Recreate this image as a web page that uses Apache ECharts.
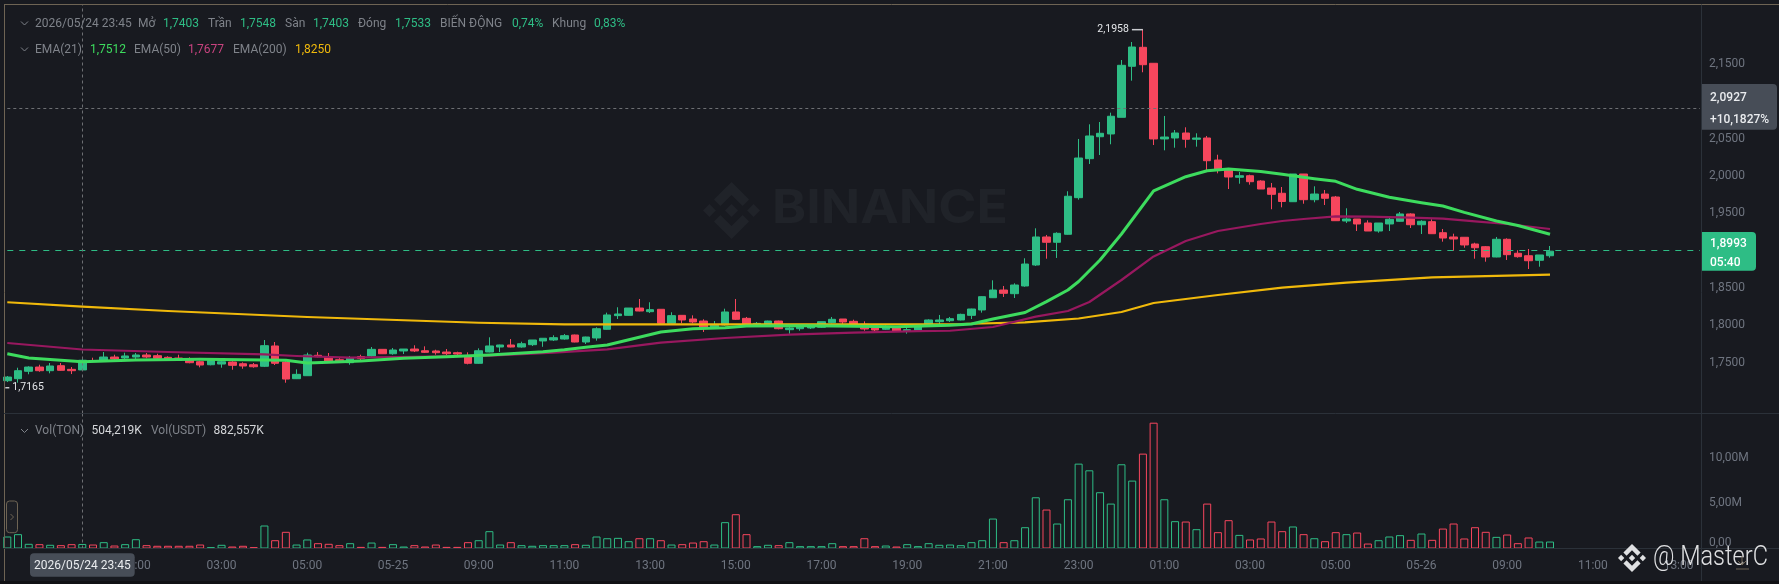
<!DOCTYPE html>
<html><head><meta charset="utf-8">
<style>html,body{margin:0;padding:0;background:#181a20}#c{width:1779px;height:584px}</style>
<script src="https://cdn.jsdelivr.net/npm/echarts@6/dist/echarts.min.js"></script>
</head><body><div id="c"></div>
<script>
const opens=[1.7259,1.7286,1.7385,1.7442,1.7393,1.7460,1.7411,1.7403,1.7527,1.7519,
1.7576,1.7563,1.7576,1.7603,1.7594,1.7572,1.7563,1.7532,1.7513,1.7473,
1.7482,1.7509,1.7486,1.7473,1.7452,1.7724,1.7509,1.7286,1.7326,1.7599,
1.7580,1.7540,1.7500,1.7583,1.7590,1.7679,1.7620,1.7657,1.7683,1.7660,
1.7657,1.7643,1.7634,1.7576,1.7492,1.7643,1.7710,1.7737,1.7710,1.7741,
1.7791,1.7804,1.7817,1.7871,1.7777,1.7831,1.7947,1.8130,1.8134,1.8232,
1.8183,1.8215,1.8027,1.8134,1.8085,1.8058,1.7978,1.8005,1.8179,1.8094,
1.8005,1.8005,1.8058,1.7942,1.7955,1.7965,1.7974,1.8036,1.8085,1.8054,
1.8014,1.7965,1.7947,1.7969,1.7924,1.7934,1.7996,1.8049,1.8062,1.8072,
1.8134,1.8206,1.8370,1.8473,1.8424,1.8527,1.8808,1.9183,1.9112,1.9219,
1.9709,2.0231,2.0525,2.0562,2.0785,2.1468,2.1722,2.1508,2.0495,2.0508,
2.0575,2.0491,2.0508,2.0213,2.0089,1.9982,2.0003,1.9932,1.9839,1.9768,
1.9655,2.0026,1.9682,1.9758,1.9718,1.9397,1.9424,1.9370,1.9263,1.9357,
1.9393,1.9491,1.9347,1.9388,1.9240,1.9183,1.9179,1.9089,1.9053,1.8915,
1.9152,1.8965,1.8932,1.8871,1.8932];
const closes=[1.7308,1.7393,1.7442,1.7393,1.7456,1.7398,1.7393,1.7533,1.7519,1.7576,
1.7549,1.7590,1.7603,1.7576,1.7559,1.7549,1.7545,1.7500,1.7469,1.7527,
1.7513,1.7465,1.7456,1.7446,1.7728,1.7492,1.7281,1.7344,1.7603,1.7580,
1.7523,1.7527,1.7567,1.7556,1.7679,1.7620,1.7670,1.7683,1.7657,1.7639,
1.7634,1.7620,1.7616,1.7492,1.7660,1.7724,1.7737,1.7710,1.7754,1.7804,
1.7827,1.7835,1.7862,1.7777,1.7844,1.7955,1.8139,1.8152,1.8232,1.8192,
1.8210,1.8027,1.8130,1.8072,1.8045,1.7974,1.8001,1.8179,1.8081,1.8018,
1.8027,1.8058,1.7955,1.7965,1.7996,1.8001,1.8049,1.8081,1.8045,1.8005,
1.7951,1.7938,1.7974,1.7924,1.7942,1.7982,1.8072,1.8072,1.8089,1.8147,
1.8219,1.8384,1.8473,1.8429,1.8540,1.8821,1.9183,1.9112,1.9232,1.9728,
2.0240,2.0535,2.0571,2.0799,2.1481,2.1726,2.1489,2.0495,2.0521,2.0575,
2.0491,2.0508,2.0204,2.0093,1.9986,2.0003,1.9923,1.9825,1.9754,1.9658,
2.0026,1.9682,1.9758,1.9701,1.9401,1.9424,1.9357,1.9263,1.9370,1.9420,
1.9491,1.9347,1.9393,1.9227,1.9169,1.9156,1.9076,1.9039,1.8915,1.9152,
1.8946,1.8919,1.8865,1.8942,1.8993];
const lows=[1.7241,1.7232,1.7345,1.7379,1.7358,1.7393,1.7348,1.7403,1.7509,1.7509,
1.7532,1.7545,1.7545,1.7559,1.7545,1.7527,1.7536,1.7492,1.7438,1.7465,
1.7433,1.7406,1.7419,1.7433,1.7442,1.7469,1.7232,1.7281,1.7326,1.7572,
1.7513,1.7519,1.7473,1.7536,1.7580,1.7616,1.7607,1.7616,1.7643,1.7630,
1.7607,1.7603,1.7599,1.7478,1.7486,1.7639,1.7643,1.7706,1.7701,1.7724,
1.7713,1.7791,1.7808,1.7773,1.7750,1.7795,1.7942,1.8085,1.8130,1.8188,
1.8165,1.8018,1.8018,1.8027,1.8027,1.7911,1.7960,1.7996,1.8072,1.8009,
1.7996,1.7996,1.7947,1.7888,1.7928,1.7951,1.7965,1.8027,1.8014,1.7996,
1.7928,1.7924,1.7938,1.7915,1.7888,1.7924,1.7982,1.8014,1.8045,1.8067,
1.8085,1.8170,1.8366,1.8380,1.8366,1.8517,1.8795,1.8892,1.8902,1.9214,
1.9682,2.0160,2.0280,2.0424,2.0785,2.1275,2.1388,2.0414,2.0343,2.0378,
2.0378,2.0392,2.0080,2.0035,1.9825,1.9896,1.9883,1.9825,1.9554,1.9580,
1.9651,1.9628,1.9647,1.9611,1.9401,1.9370,1.9263,1.9263,1.9240,1.9263,
1.9388,1.9303,1.9223,1.9223,1.9120,1.8999,1.9039,1.8892,1.8852,1.8911,
1.8875,1.8906,1.8754,1.8785,1.8906];
const highs=[1.7322,1.7433,1.7452,1.7473,1.7496,1.7496,1.7442,1.7548,1.7567,1.7643,
1.7607,1.7634,1.7630,1.7630,1.7620,1.7586,1.7607,1.7572,1.7527,1.7545,
1.7545,1.7519,1.7505,1.7496,1.7804,1.7777,1.7536,1.7411,1.7634,1.7643,
1.7630,1.7572,1.7590,1.7607,1.7710,1.7679,1.7697,1.7683,1.7733,1.7719,
1.7674,1.7683,1.7647,1.7639,1.7692,1.7840,1.7741,1.7817,1.7781,1.7804,
1.7827,1.7867,1.7884,1.7876,1.7848,1.7974,1.8170,1.8242,1.8232,1.8353,
1.8309,1.8215,1.8175,1.8134,1.8134,1.8081,1.8058,1.8223,1.8353,1.8112,
1.8045,1.8062,1.8062,1.8005,1.8005,1.8018,1.8049,1.8112,1.8085,1.8076,
1.8054,1.7992,1.8005,1.7992,1.7982,1.8001,1.8081,1.8139,1.8112,1.8156,
1.8223,1.8389,1.8603,1.8527,1.8563,1.8898,1.9299,1.9210,1.9246,1.9795,
2.0495,2.0691,2.0722,2.0847,2.1552,2.1793,2.1958,2.1508,2.0803,2.0615,
2.0651,2.0571,2.0535,2.0284,2.0102,2.0053,2.0017,1.9942,1.9906,1.9852,
2.0026,2.0026,1.9861,1.9812,1.9732,1.9567,1.9424,1.9406,1.9370,1.9437,
1.9517,1.9500,1.9406,1.9420,1.9290,1.9227,1.9179,1.9106,1.9062,1.9183,
1.9165,1.9005,1.9022,1.8942,1.9062];
const volumes=[1.33,1.59,.52,.48,.41,.37,.48,.504,.44,.70,
.33,.48,1.03,.37,.30,.30,.30,.30,.44,.15,
.41,.22,.30,.15,2.55,.92,1.85,.44,1.0,.59,
.52,.37,.59,.18,.66,.18,.48,.22,.37,.22,
.44,.18,.18,.70,.92,1.92,.44,.70,.37,.30,
.37,.37,.37,.48,.41,1.33,1.14,1.18,.81,1.14,
1.14,.92,.44,.48,.66,.81,.44,2.92,3.80,1.59,
.26,.41,.37,.70,.26,.26,.26,.59,.26,.26,
1.14,.26,.33,.22,.48,.26,.59,.41,.44,.37,
.70,.92,3.32,.70,.92,2.36,5.68,4.32,2.77,5.46,
9.41,8.67,6.24,4.98,9.34,7.53,10.52,13.95,5.46,3.03,
2.99,2.14,4.98,1.81,3.14,1.51,1.0,1.11,2.99,1.92,
2.44,1.59,1.14,.81,1.81,1.59,1.77,.55,.92,1.33,
1.48,.96,1.66,.96,2.21,2.77,1.11,2.36,1.85,1.29,
1.55,.59,1.22,.77,.77];
const ema21=[[0,1.7620],[2,1.7563],[7,1.7512],[12,1.7536],[18,1.7545],[24,1.7536],[26,1.7532],[28,1.7496],[30,1.7505],[33,1.7523],[37,1.7559],[41,1.7580],[45,1.7603],[50,1.7647],[52,1.7674],[54,1.7708],[56,1.7737],[61,1.7911],[64,1.7955],[67,1.7969],[69,1.7991],[75,1.7995],[83,1.7982],[88,1.8001],[90,1.8018],[92,1.8085],[95,1.8172],[97,1.8317],[99,1.8473],[100,1.8587],[102,1.8875],[104,1.9223],[107,1.9799],[110,1.9990],[112,2.0070],[114,2.0093],[117,2.0060],[119,2.0022],[122,1.9963],[124,1.9928],[126,1.9821],[129,1.9714],[132,1.9642],[134,1.9598],[136,1.9513],[139,1.9397],[141,1.9337],[144,1.9219]];
const ema50=[[0,1.7764],[7,1.7677],[15,1.7643],[24,1.7612],[27,1.7590],[32,1.7567],[38,1.7580],[45,1.7594],[51,1.7634],[56,1.7679],[61,1.7768],[67,1.7831],[73,1.7875],[79,1.7902],[85,1.7924],[88,1.7928],[92,1.7978],[96,1.8116],[99,1.8192],[101,1.8313],[104,1.8607],[107,1.8922],[110,1.9129],[113,1.9263],[117,1.9357],[119,1.9397],[121,1.9424],[124,1.9460],[127,1.9455],[131,1.9441],[134,1.9428],[137,1.9393],[140,1.9357],[144,1.9290]];
const ema200=[[0,1.8309],[7,1.8250],[15,1.8192],[28,1.8112],[44,1.8035],[52,1.8014],[61,1.8014],[76,1.8014],[89,1.8018],[95,1.8041],[100,1.8092],[104,1.8179],[107,1.8299],[113,1.8406],[119,1.8504],[125,1.8571],[133,1.8643],[144,1.8678]];
const priceTicks=[1.75,1.80,1.85,1.90,1.95,2.00,2.05,2.10,2.15];
const volumeTicks=[0,5,10];
const crossPrice=2.0927, lastPrice=1.8993, highMark=2.1958, lowMark=1.7165;
const hoverIndex=7, highIndex=106;
const slotCount=159;
const categories=Array.from({length:slotCount},(_,i)=>new Date(Date.UTC(2026,4,24,22)+i*9e5).toISOString().slice(5,16));
const ohlc=opens.map((o,i)=>[o,closes[i],lows[i],highs[i]]);
const UP='#2ebd85',DOWN='#f6465d',GRAY='#7f838a',AXIS='#6f7580',BG='#181a20',LINE='#2b3139',TAN='#6e6454',F='Roboto, "Liberation Sans", sans-serif';
const logoParts=[
 [[38.73,53.2],[63.32,28.62],[87.92,53.22],[102.22,38.91],[63.32,0],[24.42,38.9]],
 [[0,63.31],[14.3,49],[28.61,63.31],[14.3,77.61]],
 [[38.73,73.41],[63.32,98],[87.92,73.4],[102.23,87.69],[63.33,126.6],[24.42,87.72]],
 [[98,63.31],[112.3,49.01],[126.61,63.31],[112.3,77.62]],
 [[77.83,63.3],[63.32,48.78],[48.81,63.28],[63.32,77.78]]];
function logoShape(x,y,size,fill,z){const k=size/126.61;return logoParts.map(p=>({type:'polygon',z,silent:true,shape:{points:p.map(q=>[x+q[0]*k,y+q[1]*k])},style:{fill}}));}
function T(x,y,text,fill,font,z,sx){const o={type:'text',x,y,z:z||100,silent:true,style:{text,fill,font:font||('12px '+F),textVerticalAlign:'middle'}};if(sx)o.scaleX=sx;return o;}
function chev(x,y){return {type:'polyline',z:100,silent:true,shape:{points:[[x,y],[x+3.5,y+3.5],[x+7,y]]},style:{stroke:GRAY,lineWidth:1,fill:'none'}};}
function hline(x1,x2,y,c){return {type:'line',z:100,silent:true,shape:{x1,y1:y,x2,y2:y},style:{stroke:c,lineWidth:1}};}
function vline(x,y1,y2,c){return {type:'line',z:100,silent:true,shape:{x1:x,y1,x2:x,y2},style:{stroke:c,lineWidth:1}};}
const R1=23.5,R2=49.5,R3=431;
const graphics=[
 ...logoShape(703,182,57,'#202329',0),
 T(772,209,'BINANCE','#202329','bold 47px Inter, '+F,0,1.1),
 hline(4,1779,4.5,TAN), vline(4.5,4.5,581,TAN),
 hline(4,1779,413.5,LINE), hline(4,1779,548.5,LINE), vline(1701.5,4.5,581,LINE),
 {type:'rect',z:90,silent:true,shape:{x:0,y:581,width:1779,height:3},style:{fill:'#101114'}},
 chev(21,R1-2),chev(21,R2-2),chev(21,R3-2),
 T(35,R1,'2026/05/24 23:45',GRAY),
 T(138,R1,'Mở',GRAY),T(163,R1,'1,7403',UP),
 T(208,R1,'Trần',GRAY),T(240,R1,'1,7548',UP),
 T(285,R1,'Sàn',GRAY),T(313,R1,'1,7403',UP),
 T(358,R1,'Đóng',GRAY),T(395,R1,'1,7533',UP),
 T(440,R1,'BIẾN ĐỘNG',GRAY),T(512,R1,'0,74%',UP),
 T(552,R1,'Khung',GRAY),T(594,R1,'0,83%',UP),
 T(35,R2,'EMA(21)',GRAY),T(90,R2,'1,7512','#3ddc5e'),
 T(134,R2,'EMA(50)',GRAY),T(188,R2,'1,7677','#c8437f'),
 T(233,R2,'EMA(200)',GRAY),T(295,R2,'1,8250','#f0b90b'),
 T(35,R3,'Vol(TON)',GRAY),T(91.5,R3,'504,219K','#d5d7da'),
 T(151,R3,'Vol(USDT)',GRAY),T(213.5,R3,'882,557K','#d5d7da'),
 {type:'rect',z:100,silent:true,shape:{x:1702,y:84,width:75,height:45.7,r:[0,4,4,0]},style:{fill:'#474d57'}},
 T(1710,98,'2,0927','#eaecef','500 12px '+F,101),T(1710,120,'+10,1827%','#eaecef','500 12px '+F,101),
 {type:'rect',z:100,silent:true,shape:{x:1702,y:232,width:54,height:38.7,r:[0,4,4,0]},style:{fill:UP}},
 T(1710,244,'1,8993','#ffffff','500 12px '+F,101),T(1710,262.5,'05:40','#ffffff','500 12px '+F,101),
 {type:'rect',z:100,silent:true,shape:{x:30,y:553.3,width:104.7,height:23.4,r:4},style:{fill:'#474d57'}},
 T(34,566,'2026/05/24 23:45','#eaecef','12px '+F,101),
 {type:'rect',z:100,silent:true,shape:{x:6.5,y:501,width:11,height:31.7,r:3},style:{fill:'#1e2026',stroke:TAN,lineWidth:1}},
 {type:'polyline',z:101,silent:true,shape:{points:[[10.5,514],[13.5,517],[10.5,520]]},style:{stroke:TAN,lineWidth:1,fill:'none'}},
 ...logoShape(1618,544,28,'#dfe0e2',100),
 T(1653,558,'@ MasterC','#dfe0e2','300 27px '+F,100,0.87),
 {type:'polyline',z:100,silent:true,shape:{points:[[1738,561],[1742,565],[1746,561]]},style:{stroke:TAN,lineWidth:1,fill:'none'}},
 vline(1742,556,565,TAN), hline(1736,1749,569,TAN)
];
const chart=echarts.init(document.getElementById('c'),null,{renderer:'canvas'});
const xLabel={interval:i=>i>=12&&(i-12)%8===0,hideOverlap:false,color:AXIS,fontFamily:F,fontSize:12,margin:11,
 formatter:v=>v.slice(6,11)==='07:00'?v.slice(0,5):v.slice(6,11)};
const dashGray={color:'#6d6f73',type:[3,3],width:1};
function eLine(name,data,color,w){return {name,type:'line',xAxisIndex:0,yAxisIndex:0,data,showSymbol:false,symbol:'none',smooth:false,clip:false,lineStyle:{color,width:w,join:'round'},silent:true,z:5,animation:false};}
chart.setOption({
 animation:false,backgroundColor:BG,
 grid:[{left:7.3,top:4.5,width:1692.7,height:409},{left:7.3,top:413.5,width:1692.7,height:135}],
 xAxis:[
  {type:'category',gridIndex:0,data:categories,boundaryGap:false,axisLine:{show:false},axisTick:{show:false},axisLabel:{show:false},splitLine:{show:false}},
  {type:'category',gridIndex:1,data:categories,boundaryGap:false,axisLine:{show:false},axisTick:{show:false},axisLabel:xLabel,splitLine:{show:false}}
 ],
 yAxis:[
  {type:'value',gridIndex:0,position:'right',min:1.6820,max:2.2295,scale:true,axisLine:{show:false},axisTick:{show:false,customValues:priceTicks},splitLine:{show:false},
   axisLabel:{customValues:priceTicks,color:AXIS,fontFamily:F,fontSize:12,margin:9,align:'left',formatter:v=>v.toFixed(4).replace('.',',')}},
  {type:'value',gridIndex:1,position:'right',min:0,max:14.97,axisLine:{show:false},axisTick:{show:false,customValues:volumeTicks},splitLine:{show:false},
   axisLabel:{customValues:volumeTicks,color:AXIS,fontFamily:F,fontSize:12,margin:9,align:'left',verticalAlignMinLabel:'bottom',formatter:v=>v===0?'0,00':v.toFixed(2).replace('.',',')+'M'}}
 ],
 graphic:{elements:graphics},
 series:[
  {name:'Giá',type:'candlestick',xAxisIndex:0,yAxisIndex:0,data:ohlc,barWidth:8,clip:false,silent:true,z:3,
   itemStyle:{color:UP,color0:DOWN,borderColor:UP,borderColor0:DOWN,borderWidth:1},
   markLine:{silent:true,symbol:'none',label:{show:false},animation:false,data:[
     {yAxis:crossPrice,lineStyle:dashGray},
     {yAxis:lastPrice,lineStyle:{color:UP,type:[6,6],width:1}},
     {xAxis:hoverIndex,lineStyle:dashGray}
   ]},
   markPoint:{silent:true,animation:false,data:[
     {coord:[highIndex,highMark],symbol:'rect',symbolSize:[11,1.5],symbolOffset:[-5.5,0],itemStyle:{color:'#c9cbcf'},
      label:{show:true,position:'left',distance:3,formatter:'2,1958',color:'#e4e6e9',fontFamily:F,fontSize:10.5}},
     {coord:[0,lowMark],symbol:'rect',symbolSize:[4,1.5],itemStyle:{color:'#c9cbcf'},
      label:{show:true,position:'right',distance:3,formatter:'1,7165',color:'#e4e6e9',fontFamily:F,fontSize:10.5}}
   ]}},
  {name:'Vol',type:'bar',xAxisIndex:1,yAxisIndex:1,barWidth:8,clip:false,silent:true,z:3,
   data:volumes.map((v,i)=>({value:v,itemStyle:{color:'transparent',borderWidth:1,borderColor:closes[i]>=opens[i]?UP:DOWN}})),
   markLine:{silent:true,symbol:'none',label:{show:false},animation:false,data:[{xAxis:hoverIndex,lineStyle:dashGray}]}},
  eLine('EMA(200)',ema200,'#f0b90b',2.2),
  eLine('EMA(50)',ema50,'#98185f',2.2),
  eLine('EMA(21)',ema21,'#3ddc5e',3)
 ]
});
</script></body></html>
